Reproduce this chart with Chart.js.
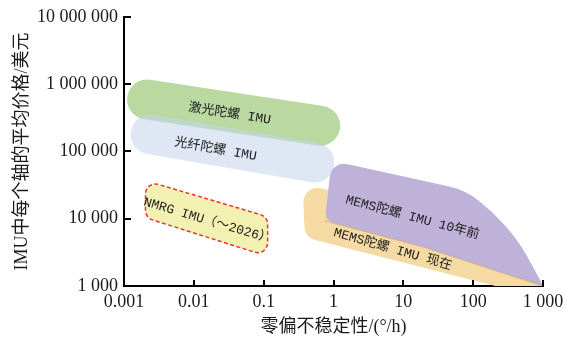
<!DOCTYPE html>
<html>
<head>
<meta charset="utf-8">
<script src="https://cdn.jsdelivr.net/npm/chart.js@4.4.0/dist/chart.umd.min.js"></script>
<style>
  html, body { margin: 0; padding: 0; background: #fff; }
  #wrap { width: 576px; height: 341px; }
</style>
</head>
<body>
<div id="wrap"><canvas id="grafica" width="576" height="341"></canvas></div>
<script>
'use strict';

/* ── EJES (log-log) ── */
const X_TICKS  = [0.001, 0.01, 0.1, 1, 10, 100, 1000];
const X_LABELS = ['0.001', '0.01', '0.1', '1', '10', '100', '1 000'];
const Y_TICKS  = [1e3, 1e4, 1e5, 1e6, 1e7];
const Y_LABELS = ['1 000', '10 000', '100 000', '1 000 000', '10 000 000'];

/* ── REGIONES: x = 零偏不稳定性 (°/h), y = 价格 (美元) ── */
/* cápsulas: extremos del eje central */
const LASER_GYRO = [{ x: 0.00214, y: 591000 }, { x: 0.646, y: 240500 }];
const FIBER_GYRO = [{ x: 0.0024,  y: 179000 }, { x: 0.533, y: 68200 }];
/* polígonos: vértices en orden */
const NMRG_IMU = [
  { x: 0.00203, y: 36800 }, { x: 0.114, y: 10700 },
  { x: 0.114,   y: 2760  }, { x: 0.00203, y: 10350 },
];
const MEMS_OLD = [
  { x: 0.94, y: 72500 }, { x: 76, y: 26700 }, { x: 186, y: 13100 },
  { x: 439, y: 4750 },   { x: 767, y: 1720 }, { x: 1000, y: 1000 },
  { x: 20.3, y: 3750 },  { x: 0.75, y: 9350 },
];
const MEMS_NOW = [
  { x: 0.362, y: 32700 }, { x: 33.3, y: 11070 }, { x: 1000, y: 1000 },
  { x: 397, y: 843 },     { x: 0.388, y: 5260 },
];

/* ── ETIQUETAS ── */
const LABEL_TEXT = ['激光陀螺 IMU', '光纤陀螺 IMU', 'NMRG IMU（～2026）', 'MEMS陀螺 IMU 10年前', 'MEMS陀螺 IMU 现在'];
const LABEL_X    = [0.0326, 0.0205, 0.0157, 13.5, 7.06];
const LABEL_Y    = [362000, 107000, 9350, 10450, 3500];

/* estilos */
const LABEL_ANGLE = [9, 10, 16.5, 15, 16];
const FONT_AXIS   = "'Liberation Serif', 'Noto Sans CJK SC', serif";
const FONT_LABEL  = "'Liberation Mono', 'Noto Sans CJK SC', monospace";

/* ── UTILIDADES ── */

/** Traza un polígono con esquinas redondeadas (radio por vértice, px). */
function trazarRedondeado(ctx, pts, radios) {
  const n = pts.length;
  const dist = (a, b) => Math.hypot(b.x - a.x, b.y - a.y);
  const s = { x: (pts[n - 1].x + pts[0].x) / 2, y: (pts[n - 1].y + pts[0].y) / 2 };
  ctx.beginPath();
  ctx.moveTo(s.x, s.y);
  for (let i = 0; i < n; i++) {
    const p = pts[i], q = pts[(i + 1) % n], o = pts[(i - 1 + n) % n];
    const d1 = dist(p, o), d2 = dist(p, q);
    let r = radios[i] || 0;
    if (r > 0) {
      const ang = Math.acos(Math.max(-1, Math.min(1,
        ((o.x - p.x) * (q.x - p.x) + (o.y - p.y) * (q.y - p.y)) / (d1 * d2))));
      const t = r / Math.tan(ang / 2);
      const tMax = Math.min(d1, d2) / 2;
      if (t > tMax) r = tMax * Math.tan(ang / 2);
    }
    ctx.arcTo(p.x, p.y, q.x, q.y, r);
  }
  ctx.closePath();
}

/* Plugin: dibuja los polígonos redondeados a partir de los puntos ya escalados */
const pluginFormas = {
  id: 'formas',
  afterDatasetDraw(chart, args) {
    const ds = chart.data.datasets[args.index];
    if (!ds.forma) return;
    const { ctx, chartArea } = chart;
    const pts = args.meta.data.map(p => ({ x: p.x, y: p.y }));
    ctx.save();
    ctx.beginPath();
    ctx.rect(chartArea.left, chartArea.top, chartArea.right - chartArea.left, chartArea.bottom - chartArea.top);
    ctx.clip();
    trazarRedondeado(ctx, pts, ds.forma.radios);
    ctx.fillStyle = ds.forma.relleno;
    ctx.fill();
    if (ds.forma.borde) {
      ctx.strokeStyle = ds.forma.borde;
      ctx.lineWidth = ds.forma.grosor;
      ctx.setLineDash(ds.forma.guiones || []);
      ctx.stroke();
    }
    /* sombra en el borde inferior */
    if (ds.forma.sombra) {
      const idx = ds.forma.sombra.puntos;
      ctx.beginPath();
      idx.forEach((k, j) => j ? ctx.lineTo(pts[k].x, pts[k].y) : ctx.moveTo(pts[k].x, pts[k].y));
      ctx.strokeStyle = ds.forma.sombra.color;
      ctx.lineWidth = ds.forma.sombra.grosor;
      ctx.stroke();
    }
    ctx.restore();
  },
  afterDatasetsDraw(chart) {
    const { ctx, scales } = chart;
    ctx.save();
    ctx.fillStyle = '#1a1a1a';
    ctx.font = '13px ' + FONT_LABEL;
    ctx.textAlign = 'center';
    ctx.textBaseline = 'middle';
    LABEL_TEXT.forEach((txt, i) => {
      const px = scales.x.getPixelForValue(LABEL_X[i]);
      const py = scales.y.getPixelForValue(LABEL_Y[i]);
      ctx.save();
      ctx.translate(px, py);
      ctx.rotate(LABEL_ANGLE[i] * Math.PI / 180);
      ctx.fillText(txt, 0, 0);
      ctx.restore();
    });
    ctx.restore();
  },
  afterDraw(chart) {
    /* marcas de graduación hacia dentro */
    const { ctx, chartArea, scales } = chart;
    ctx.save();
    ctx.strokeStyle = '#000';
    ctx.lineWidth = 2;
    X_TICKS.forEach(v => {
      const px = Math.round(scales.x.getPixelForValue(v));
      ctx.beginPath();
      ctx.moveTo(px, chartArea.bottom);
      ctx.lineTo(px, chartArea.bottom - 6);
      ctx.stroke();
    });
    Y_TICKS.forEach(v => {
      const py = Math.round(scales.y.getPixelForValue(v));
      ctx.beginPath();
      ctx.moveTo(chartArea.left, py);
      ctx.lineTo(chartArea.left + 7, py);
      ctx.stroke();
    });
    ctx.restore();
  }
};

/* ── GRÁFICA ── */
const ctx = document.getElementById('grafica').getContext('2d');

new Chart(ctx, {
  type: 'line',
  data: {
    datasets: [
      {
        label: '激光陀螺 IMU', data: LASER_GYRO, order: 6,
        borderColor: '#b9d9a1', borderWidth: 40, borderCapStyle: 'round',
        pointRadius: 0, fill: false,
      },
      {
        label: '光纤陀螺 IMU', data: FIBER_GYRO, order: 5,
        borderColor: 'rgba(196,212,236,0.55)', borderWidth: 40, borderCapStyle: 'round',
        pointRadius: 0, fill: false,
      },
      {
        label: 'MEMS陀螺 IMU 现在', data: MEMS_NOW, order: 4,
        showLine: false, pointRadius: 0,
        forma: { relleno: '#f5dba3', radios: [14, 0, 0, 20, 14] },
      },
      {
        label: 'MEMS陀螺 IMU 10年前', data: MEMS_OLD, order: 3,
        showLine: false, pointRadius: 0,
        forma: {
          relleno: '#bfb2d8', radios: [14, 80, 999, 999, 999, 0, 60, 10],
          sombra: { puntos: [7, 6, 5], color: 'rgba(200,165,125,0.55)', grosor: 1.5 },
        },
      },
      {
        label: 'NMRG IMU', data: NMRG_IMU, order: 2,
        showLine: false, pointRadius: 0,
        forma: { relleno: '#f2f1b2', radios: [10, 10, 10, 10],
                 borde: '#e8352c', grosor: 1.5, guiones: [4, 2.5] },
      },
    ]
  },
  options: {
    responsive: false,
    animation: false,
    layout: { padding: { left: 0, right: 33, top: 14, bottom: 0 } },
    plugins: {
      legend: { display: false },
      tooltip: { enabled: false },
    },
    scales: {
      x: {
        type: 'logarithmic',
        min: 0.001, max: 1000,
        afterBuildTicks: s => { s.ticks = X_TICKS.map(v => ({ value: v })); },
        afterFit: s => { s.height = 55; },
        ticks: {
          autoSkip: false, maxRotation: 0, padding: 5,
          color: '#1a1a1a',
          font: { family: FONT_AXIS, size: 18 },
          callback: (v, i) => X_LABELS[i],
        },
        grid: { display: true, drawOnChartArea: false, drawTicks: false },
        border: { display: true, color: '#000', width: 2 },
        title: {
          display: true, text: '零偏不稳定性/(°/h)', color: '#1a1a1a',
          font: { family: FONT_AXIS, size: 18 }, padding: { top: 0, bottom: 3 },
        },
      },
      y: {
        type: 'logarithmic',
        min: 1e3, max: 1e7,
        afterBuildTicks: s => { s.ticks = Y_TICKS.map(v => ({ value: v })); },
        afterFit: s => { s.width = 124; },
        ticks: {
          autoSkip: false, padding: 6,
          color: '#1a1a1a',
          font: { family: FONT_AXIS, size: 18 },
          callback: (v, i) => Y_LABELS[i],
        },
        grid: { display: true, drawOnChartArea: false, drawTicks: false },
        border: { display: true, color: '#000', width: 2 },
        title: {
          display: true, text: 'IMU中每个轴的平均价格/美元', color: '#1a1a1a',
          font: { family: FONT_AXIS, size: 18 }, padding: { top: 11, bottom: 0 },
        },
      }
    }
  },
  plugins: [pluginFormas]
});
</script>
</body>
</html>
